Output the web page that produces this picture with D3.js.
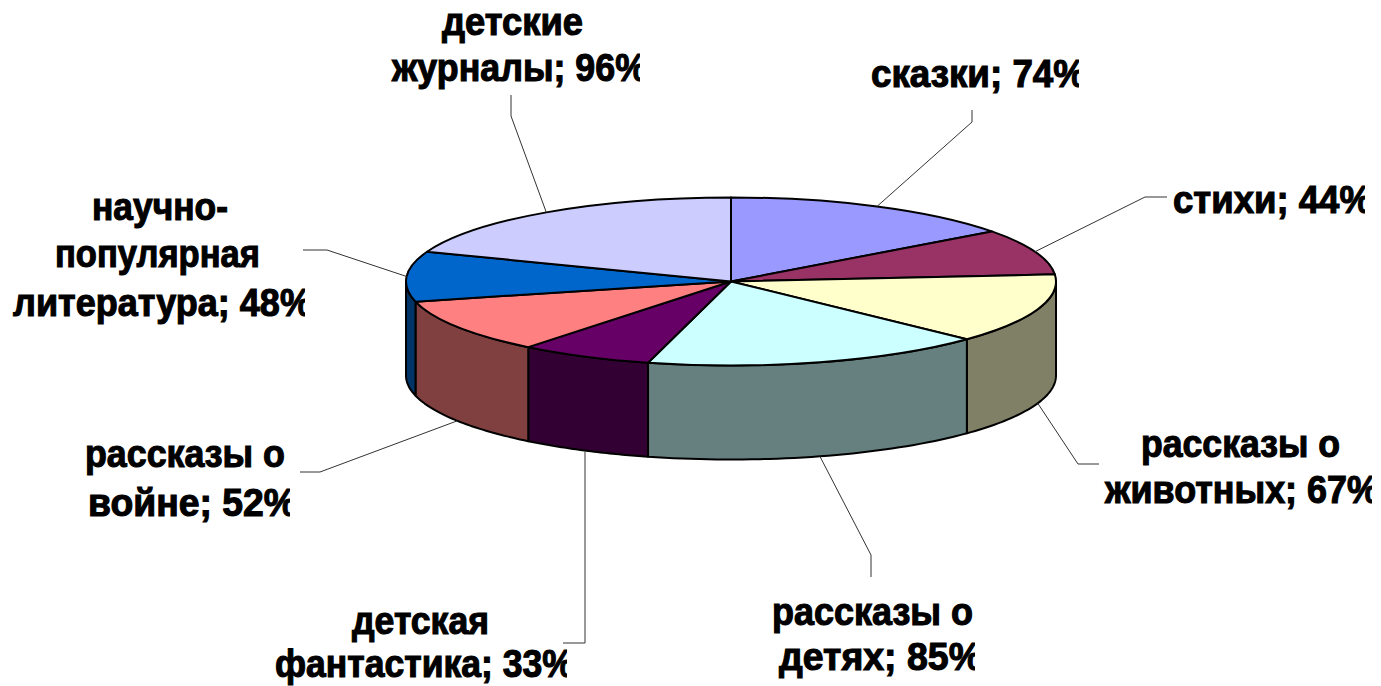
<!DOCTYPE html>
<html>
<head>
<meta charset="utf-8">
<script src="https://cdn.jsdelivr.net/npm/d3@7"></script>
<style>
  html, body { margin: 0; padding: 0; background: #fff; overflow: hidden; }
  text { font-family: "Liberation Sans", Arial, sans-serif; font-weight: bold; font-size: 38px; fill: #000; stroke: #000; stroke-width: 1.1px; }
</style>
</head>
<body>
<script>
const categories = ["сказки", "стихи", "рассказы о животных", "рассказы о детях", "детская фантастика", "рассказы о войне", "научно-популярная литература", "детские журналы"];
const values = [74, 44, 67, 85, 33, 52, 48, 96];
const topColors = ["#9999ff", "#993366", "#ffffcc", "#ccffff", "#660066", "#ff8080", "#0066cc", "#ccccff"];
const sideColors = ["#4d4d80", "#4d1a33", "#808066", "#668080", "#330033", "#804040", "#003366", "#666680"];

// label text split in lines, same order as categories
const labelLines = [
  ["сказки; 74%"],
  ["стихи; 44%"],
  ["рассказы о", "животных; 67%"],
  ["рассказы о", "детях; 85%"],
  ["детская", "фантастика; 33%"],
  ["рассказы о", "войне; 52%"],
  ["научно-", "популярная", "литература; 48%"],
  ["детские", "журналы; 96%"]
];

// layout only: [x0, x1, baseline] per line
const labelBoxes = [
  [[871, 1079, 87]],
  [[1173, 1365, 213]],
  [[1141, 1340, 457], [1105, 1372, 503]],
  [[772, 973, 625], [779, 975, 670]],
  [[352, 489, 634], [275, 567, 677]],
  [[85, 285, 467], [88, 290, 516]],
  [[92, 228, 220], [55, 260, 267], [13, 305, 316]],
  [[442, 583, 35], [392, 640, 81]]
];
// leader lines go from the slice edge through these points
const leaderBends = [
  [[972, 122], [972, 110]],
  [[1145, 197], [1167, 197]],
  [[1078, 464], [1099, 464]],
  [[871, 555], [871, 577]],
  [[585, 643], [563, 643]],
  [[320, 472], [300, 472]],
  [[327, 250], [303, 250]],
  [[511, 116], [511, 95]]
];

const width = 1381, height = 686;
const cx = 731, cy = 281.5, rx = 325, ry = 84, depth = 94;

const svg = d3.select("body").append("svg").attr("width", width).attr("height", height);
svg.append("rect").attr("width", width).attr("height", height).attr("fill", "#fff");

const pie = d3.pie().sort(null).value(d => d)(values);

const px = a => cx + rx * Math.sin(a);
const py = a => cy - ry * Math.cos(a);

// side walls, only the front half of the ellipse is seen
const wallLine = d3.line();
const front = pie.map((d, i) => ({
  i: i,
  a0: Math.max(d.startAngle, Math.PI / 2),
  a1: Math.min(d.endAngle, Math.PI * 1.5)
})).filter(d => d.a1 > d.a0);

svg.append("g").selectAll("path")
  .data(front)
  .enter().append("path")
  .attr("d", d => {
    const n = 40;
    const angles = d3.range(n + 1).map(k => d.a0 + (d.a1 - d.a0) * k / n);
    const upper = angles.map(a => [px(a), py(a)]);
    const lower = angles.slice().reverse().map(a => [px(a), py(a) + depth]);
    return wallLine(upper.concat(lower)) + "Z";
  })
  .attr("fill", d => sideColors[d.i])
  .attr("stroke", "#000")
  .attr("stroke-width", 2)
  .attr("stroke-linejoin", "round");

// top of the pie: normal arcs squashed to an ellipse
const arc = d3.arc().innerRadius(0).outerRadius(rx);
svg.append("g")
  .attr("transform", `translate(${cx},${cy}) scale(1,${ry / rx})`)
  .selectAll("path")
  .data(pie)
  .enter().append("path")
  .attr("d", arc)
  .attr("fill", (d, i) => topColors[i])
  .attr("stroke", "#000")
  .attr("stroke-width", 2)
  .attr("vector-effect", "non-scaling-stroke")
  .attr("stroke-linejoin", "round");

// leaders
const leaderLine = d3.line();
svg.append("g").selectAll("path")
  .data(pie)
  .enter().append("path")
  .attr("d", (d, i) => {
    const mid = (d.startAngle + d.endAngle) / 2;
    const isFront = mid > Math.PI / 2 && mid < Math.PI * 1.5;
    const start = [px(mid), py(mid) + (isFront ? depth : 0)];
    return leaderLine([start].concat(leaderBends[i]));
  })
  .attr("fill", "none")
  .attr("stroke", "#333")
  .attr("stroke-width", 1);

// labels, the % sign is cut off at the right on lines that end with it
const defs = svg.append("defs");
const labels = svg.append("g");
labelLines.forEach((lines, i) => {
  lines.forEach((line, j) => {
    const box = labelBoxes[i][j];
    const cut = line.endsWith("%");
    const wrap = labels.append("g");
    const t = wrap.append("text").text(line);
    // squeeze the line to the width it has in the picture
    const sx = (box[1] - box[0] + (cut ? 7 : 0)) / t.node().getComputedTextLength();
    t.attr("transform", `translate(${box[0]},${box[2]}) scale(${sx},1)`);
    if (cut) {
      const id = `cut-${i}-${j}`;
      defs.append("clipPath").attr("id", id).append("rect")
        .attr("x", box[0] - 5).attr("y", box[2] - 40)
        .attr("width", box[1] - box[0] + 5).attr("height", 55);
      wrap.attr("clip-path", `url(#${id})`);
    }
  });
});
</script>
</body>
</html>
